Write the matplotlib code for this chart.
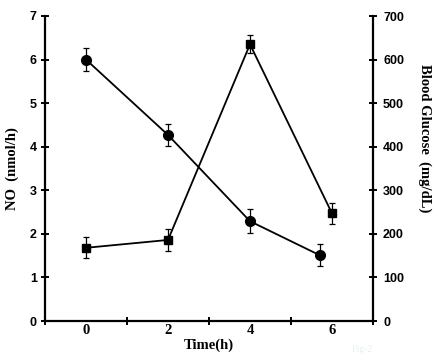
import matplotlib
matplotlib.use("Agg")
import matplotlib.pyplot as plt
from matplotlib.ticker import FixedLocator, NullFormatter

# Data
time_labels = ["0", "2", "4", "6"]
no_x = [0, 1, 2, 2.85]
no_values = [6.0, 4.27, 2.29, 1.51]
no_err = [0.27, 0.26, 0.27, 0.25]
glu_x = [0, 1, 2, 3]
glu_values = [168, 186, 635, 247]
glu_err = [24, 25, 21, 24]

serif = ["Liberation Serif", "DejaVu Serif"]
sans = ["Liberation Sans", "DejaVu Sans"]

fig = plt.figure(figsize=(4.4, 3.56), dpi=100)
ax = fig.add_axes([45/440, 35/356, 328/440, 305/356])
ax2 = ax.twinx()

lw = 1.3
ax.errorbar(no_x, no_values, yerr=no_err, fmt='-o', color='black', lw=lw,
            ms=7, capsize=2.5, elinewidth=0.9, capthick=0.9, zorder=3)
ax2.errorbar(glu_x, glu_values, yerr=glu_err, fmt='-s', color='black', lw=lw,
             ms=6.3, capsize=2.5, elinewidth=0.9, capthick=0.9, zorder=3)

ax.set_xlim(-0.5, 3.5)
ax.set_ylim(0, 7)
ax2.set_ylim(0, 700)

tl = 5.8
tw = 1.4
ax.xaxis.set_major_locator(FixedLocator([-0.5, 0.5, 1.5, 2.5, 3.5]))
ax.xaxis.set_major_formatter(NullFormatter())
ax.xaxis.set_minor_locator(FixedLocator(glu_x))
ax.set_xticklabels(time_labels, minor=True)
ax.tick_params(axis='x', which='minor', length=0, pad=2.5)
ax.tick_params(axis='x', which='major', direction='inout', length=tl, width=tw)
for t in ax.get_xticklabels(minor=True):
    t.set_family(serif); t.set_fontweight('bold'); t.set_fontsize(10.5)

ax.set_yticks(range(0, 8))
ax.tick_params(axis='y', direction='inout', length=tl, width=tw, pad=3)
ax2.set_yticks(range(0, 800, 100))
ax2.tick_params(axis='y', direction='inout', length=tl, width=tw, pad=4.3)
for t in ax.get_yticklabels() + ax2.get_yticklabels():
    t.set_family(sans); t.set_fontweight('bold'); t.set_fontsize(9)

for a in (ax, ax2):
    a.spines['top'].set_visible(False)
    for s in ('left', 'right', 'bottom'):
        a.spines[s].set_linewidth(1.6)
ax.spines['right'].set_visible(False)
ax2.spines['left'].set_visible(False)
ax2.spines['bottom'].set_visible(False)

ax.set_ylabel("NO  (nmol/h)", family=serif, fontweight='bold', fontsize=10.5)
ax.yaxis.set_label_coords(-0.078, 0.5)
ax2.set_ylabel("Blood Glucose  (mg/dL)", family=serif, fontweight='bold',
               fontsize=10.5, rotation=-90, va='bottom')
ax2.yaxis.set_label_coords(1.137, 0.6)
ax.set_xlabel("Time(h)", family=serif, fontweight='bold', fontsize=10.5)
ax.xaxis.set_label_coords(0.5, -0.058)

fig.text(362/440, 6/356, "Fig-2", color='#e0f4f4', fontsize=7, family=serif,
         ha='center', va='center')

fig.savefig("out.png", dpi=100)
